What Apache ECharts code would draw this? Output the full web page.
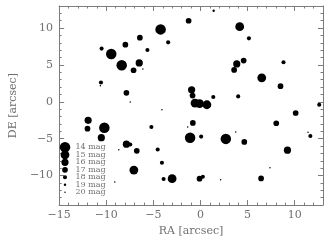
<!DOCTYPE html>
<html><head><meta charset="utf-8">
<script src="https://cdn.jsdelivr.net/npm/echarts@6/dist/echarts.min.js"></script>
<style>html,body{margin:0;padding:0;background:#fff}#c{width:330px;height:242px}</style>
</head><body><div id="c"></div>
<script>
// RA offsets [arcsec]
const ra = [-1.26,-4.23,-6.43,-3.43,-7.97,-10.49,-5.63,-9.47,-8.36,-6.5,-7.1,-6.11,-10.56,-10.62,-7.86,-7.45,
  1.4,4.16,5.14,4.58,3.85,3.57,8.81,6.5,8.49,1.36,4.0,12.6,
  -0.94,-0.84,-0.58,-0.1,0.68,
  -11.92,-11.99,-10.2,-10.52,-7.86,-7.45,-8.67,-6.76,-7.07,-9.09,-5.21,-4.09,-4.54,-4.09,-3.91,-3.01,-1.36,
  -0.81,-1.1,0.07,2.69,3.74,4.65,8.04,10.1,11.41,11.66,9.23,7.37,-0.1,0.25,2.14,6.43];
// DE offsets [arcsec]
const de = [11.0,9.83,8.7,8.07,7.76,7.22,7.04,6.5,4.97,5.28,4.29,4.47,2.63,2.17,1.23,-0.03,
  12.35,10.19,8.61,5.6,5.14,4.33,5.37,3.26,2.13,0.65,0.74,-0.4,
  1.63,0.85,-0.16,-0.23,-0.39,
  -2.5,-3.63,-3.5,-4.85,-5.74,-5.79,-6.5,-6.64,-9.25,-10.87,-3.4,-1.08,-6.46,-8.26,-10.47,-10.42,-3.4,
  -2.86,-4.87,-4.71,-5.02,-4.08,-5.43,-2.9,-1.51,-4.12,-4.62,-6.55,-8.94,-10.42,-10.15,-10.56,-10.38];
// magnitudes
const mag = [17,14,17,18,17,18,18,14,14,16,17,20,18,20,17,20,
  19,15,18,17,16,17,18,15,17,18,18,18,
  16,17,15,15,15,
  16,17,14,16,16,18,20,17,15,20,18,20,18,18,18,15,20,
  17,14,18,14,20,17,17,17,20,18,16,20,17,18,20,17];
const magClasses = [14,15,16,17,18,19,20];
const xTickValues = [-15,-10,-5,0,5,10];
const yTickValues = [-10,-5,0,5,10];
const xRange = [-15, 13];
const yRange = [-14, 13];

const axisColor = '#7c7c7c';
const textColor = '#707070';
const font = 'DejaVu Serif';
const dotSize = {14:10.5, 15:8.8, 16:7.2, 17:5.7, 18:4.1, 19:2.4, 20:1.5};
const fmt = v => String(v).replace('-', '\u2212');
const box = 11;
function circleIcon(d) {
  const c = box / 2, r = d / 2;
  return 'path://M0 0M' + box + ' ' + box + 'M' + (c - r) + ' ' + c +
    'A' + r + ' ' + r + ' 0 1 0 ' + (c + r) + ' ' + c +
    'A' + r + ' ' + r + ' 0 1 0 ' + (c - r) + ' ' + c + 'Z';
}
const lineStyle = {color: axisColor, width: 1};
function majorAxis(pos, range, ticks, labels, extra) {
  return Object.assign({
    type: 'value', position: pos, min: range[0], max: range[1], interval: 1,
    axisLine: {show: true, onZero: false, lineStyle},
    axisTick: {show: true, inside: true, length: 5, customValues: ticks, lineStyle},
    axisLabel: labels ? {show: true, customValues: ticks, formatter: fmt, color: textColor,
      fontFamily: font, fontSize: 11} : {show: false},
    splitLine: {show: false}
  }, extra || {});
}
function minorAxis(pos, range) {
  return {
    type: 'value', position: pos, min: range[0], max: range[1], interval: 1,
    axisLine: {show: false, onZero: false},
    axisTick: {show: true, inside: true, length: 2.5, lineStyle},
    axisLabel: {show: false}, splitLine: {show: false}
  };
}
const nameStyle = {color: textColor, fontFamily: font, fontSize: 11};

const series = magClasses.map(m => ({
  type: 'scatter', name: m + ' mag', xAxisIndex: 0, yAxisIndex: 0,
  symbol: 'circle', symbolSize: dotSize[m],
  itemStyle: {color: '#000', opacity: 1},
  silent: true,
  data: mag.map((v, i) => v === m ? [ra[i], de[i]] : null).filter(p => p)
}));

const chart = echarts.init(document.getElementById('c'), null, {renderer: 'canvas'});
chart.setOption({
  animation: false,
  backgroundColor: '#fff',
  grid: {left: 55, right: 7, top: 6, bottom: 36, containLabel: false},
  xAxis: [
    majorAxis('bottom', xRange, xTickValues, true, {
      name: 'RA [arcsec]', nameLocation: 'middle', nameGap: 18, nameTextStyle: nameStyle,
      axisLabel: {show: true, customValues: xTickValues, formatter: fmt, color: textColor,
        fontFamily: font, fontSize: 11, margin: 5}}),
    minorAxis('bottom', xRange),
    majorAxis('top', xRange, xTickValues, false),
    minorAxis('top', xRange)
  ],
  yAxis: [
    majorAxis('left', yRange, yTickValues, true, {
      name: 'DE [arcsec]', nameLocation: 'middle', nameGap: 36, nameTextStyle: nameStyle,
      axisLabel: {show: true, customValues: yTickValues, formatter: fmt, color: textColor,
        fontFamily: font, fontSize: 11, margin: 6}}),
    minorAxis('left', yRange),
    majorAxis('right', yRange, yTickValues, false),
    minorAxis('right', yRange)
  ],
  legend: {
    orient: 'vertical', left: 59.5, top: 141.8, padding: 0,
    itemWidth: box, itemHeight: box, itemGap: -3.5, selectedMode: false,
    textStyle: {fontFamily: font, fontSize: 8, lineHeight: 8, color: textColor},
    data: magClasses.map(m => ({name: m + ' mag', icon: circleIcon(dotSize[m])}))
  },
  series
});
</script>
</body></html>
